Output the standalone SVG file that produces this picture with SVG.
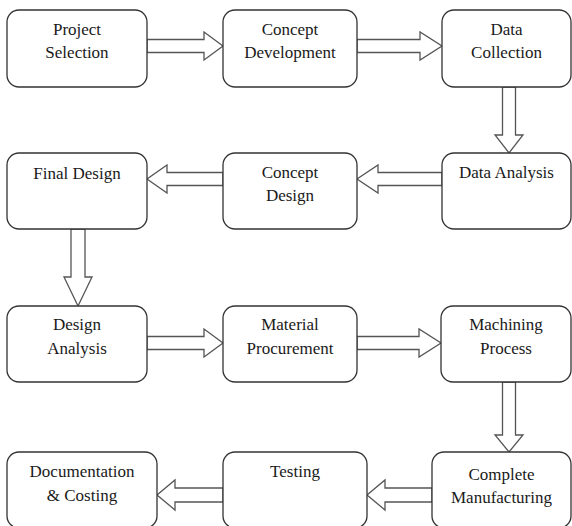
<svg xmlns="http://www.w3.org/2000/svg" width="572" height="526" viewBox="0 0 572 526">
  <style>
    .box { fill: #ffffff; stroke: #333333; stroke-width: 1.3; }
    .arrow { fill: #ffffff; stroke: #555555; stroke-width: 1.3; stroke-linejoin: miter; }
    .label { font-size: 17px; fill: #1a1a1a; text-anchor: middle; }
  </style>
  <rect width="572" height="526" fill="#ffffff"/>

  <!-- block arrows between the steps -->
  <g id="connectors">
    <!-- row 1, left to right -->
    <path class="arrow" d="M147,39.5 H204 V32 L223,46 L204,60 V52.5 H147 Z"/>
    <path class="arrow" d="M357,39.5 H420 V32 L442,46 L420,60 V52.5 H357 Z"/>
    <!-- down to row 2 -->
    <path class="arrow" d="M502.5,87 V135 H495 L509,153 L523,135 H515.5 V87 Z"/>
    <!-- row 2, right to left -->
    <path class="arrow" d="M442,172.5 H378 V165 L357,179 L378,193 V185.5 H442 Z"/>
    <path class="arrow" d="M223,172.5 H167 V165 L147,179 L167,193 V185.5 H223 Z"/>
    <!-- down to row 3 -->
    <path class="arrow" d="M71,229 V277 H64 L78,306 L92,277 H85 V229 Z"/>
    <!-- row 3, left to right -->
    <path class="arrow" d="M147,336.5 H204 V329 L223,343 L204,357 V349.5 H147 Z"/>
    <path class="arrow" d="M357,336.5 H419 V329 L441,343 L419,357 V349.5 H357 Z"/>
    <!-- down to row 4 -->
    <path class="arrow" d="M502.5,382 V435 H495 L509,452 L523,435 H515.5 V382 Z"/>
    <!-- row 4, right to left -->
    <path class="arrow" d="M432,488 H385 V480 L367,495 L385,510 V502 H432 Z"/>
    <path class="arrow" d="M223,488 H175 V480 L157,495 L175,510 V502 H223 Z"/>
  </g>

  <g font-family="Liberation Serif, DejaVu Serif, serif">
  <!-- row 1 -->
  <g id="project-selection">
    <rect class="box" x="7" y="10" width="140" height="77" rx="12"/>
    <text class="label" x="77" y="35">Project</text>
    <text class="label" x="77" y="58">Selection</text>
  </g>
  <g id="concept-development">
    <rect class="box" x="223" y="10" width="134" height="77" rx="12"/>
    <text class="label" x="290" y="35">Concept</text>
    <text class="label" x="290" y="58">Development</text>
  </g>
  <g id="data-collection">
    <rect class="box" x="442" y="10" width="129" height="77" rx="12"/>
    <text class="label" x="506.5" y="35">Data</text>
    <text class="label" x="506.5" y="58">Collection</text>
  </g>

  <!-- row 2 -->
  <g id="final-design">
    <rect class="box" x="7" y="153" width="140" height="76" rx="12"/>
    <text class="label" x="77" y="179">Final Design</text>
  </g>
  <g id="concept-design">
    <rect class="box" x="223" y="153" width="134" height="76" rx="12"/>
    <text class="label" x="290" y="178">Concept</text>
    <text class="label" x="290" y="201">Design</text>
  </g>
  <g id="data-analysis">
    <rect class="box" x="442" y="153" width="129" height="76" rx="12"/>
    <text class="label" x="506.5" y="178">Data Analysis</text>
  </g>

  <!-- row 3 -->
  <g id="design-analysis">
    <rect class="box" x="7" y="306" width="140" height="76" rx="12"/>
    <text class="label" x="77" y="330">Design</text>
    <text class="label" x="77" y="354">Analysis</text>
  </g>
  <g id="material-procurement">
    <rect class="box" x="223" y="306" width="134" height="76" rx="12"/>
    <text class="label" x="290" y="330">Material</text>
    <text class="label" x="290" y="354">Procurement</text>
  </g>
  <g id="machining-process">
    <rect class="box" x="441" y="306" width="130" height="76" rx="12"/>
    <text class="label" x="506" y="330">Machining</text>
    <text class="label" x="506" y="354">Process</text>
  </g>

  <!-- row 4 -->
  <g id="documentation-costing">
    <rect class="box" x="7" y="452" width="150" height="76" rx="12"/>
    <text class="label" x="82" y="477">Documentation</text>
    <text class="label" x="82" y="501">&amp; Costing</text>
  </g>
  <g id="testing">
    <rect class="box" x="223" y="452" width="144" height="76" rx="12"/>
    <text class="label" x="295" y="477">Testing</text>
  </g>
  <g id="complete-manufacturing">
    <rect class="box" x="432" y="452" width="139" height="76" rx="12"/>
    <text class="label" x="501.5" y="480">Complete</text>
    <text class="label" x="501.5" y="503">Manufacturing</text>
  </g>
  </g>
</svg>
